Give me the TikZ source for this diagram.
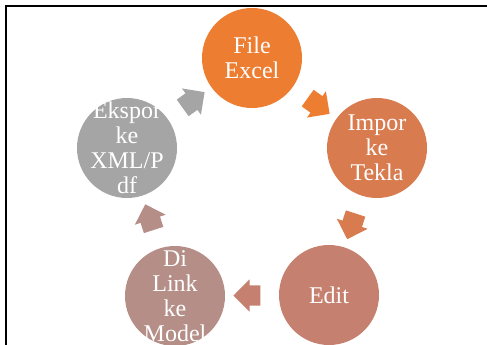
\documentclass[tikz,border=0pt]{standalone}
\usepackage{fontspec}
\setmainfont{Liberation Serif}
\usetikzlibrary{shapes.arrows}

\definecolor{cexcel}{HTML}{ED7D31}
\definecolor{cimpor}{HTML}{D87B4F}
\definecolor{cedit}{HTML}{C6806F}
\definecolor{clink}{HTML}{B48E87}
\definecolor{cekspor}{HTML}{A5A5A5}

\tikzset{
  stage/.style={circle, minimum size=100pt, inner sep=0pt},
  stagetext/.style={text=white, align=center, inner sep=0pt,
    font=\fontsize{24}{25}\selectfont},
  flow/.style={single arrow, minimum height=27pt, inner xsep=0pt,
    inner ysep=10pt, single arrow head extend=6pt, sloped,
    allow upside down}
}

\begin{document}
\begin{tikzpicture}[x=1pt, y=-1pt]
    \useasboundingbox (0, 0) rectangle (487, 345);
    \draw [line width=2pt]  (487, 6.5) -- (5.5, 6.5) -- (5.5, 345);
    % stages
    \node [stage, fill=cexcel]  (excel)  at (252, 58)  {};
    \node [stage, fill=cimpor]  (impor)  at (377, 148) {};
    \node [stage, fill=cedit]   (edit)   at (329, 295) {};
    \node [stage, fill=clink]   (link)   at (175, 296) {};
    \node [stage, fill=cekspor] (ekspor) at (127, 148) {};
    % texts
    \node [stagetext] (excel-t)  at (excel)  {File\\Excel};
    \node [stagetext] (impor-t)  at (impor)  {Impor\\ke\\Tekla};
    \node [stagetext] (edit-t)   at (edit)   {Edit};
    \node [stagetext] (link-t)   at (link)   {Di\\Link\\ke\\Model};
    \node [stagetext] (ekspor-t) at (ekspor) {Ekspor\\ke\\XML/P\\df};
    % arrows
    \path (excel)  -- node [flow, fill=cexcel]  (f1) {} (impor);
    \path (impor)  -- node [flow, fill=cimpor]  (f2) {} (edit);
    \path (edit)   -- node [flow, fill=cedit]   (f3) {} (link);
    \path (link)   -- node [flow, fill=clink]   (f4) {} (ekspor);
    \path (ekspor) -- node [flow, fill=cekspor] (f5) {} (excel);
\end{tikzpicture}
\end{document}
